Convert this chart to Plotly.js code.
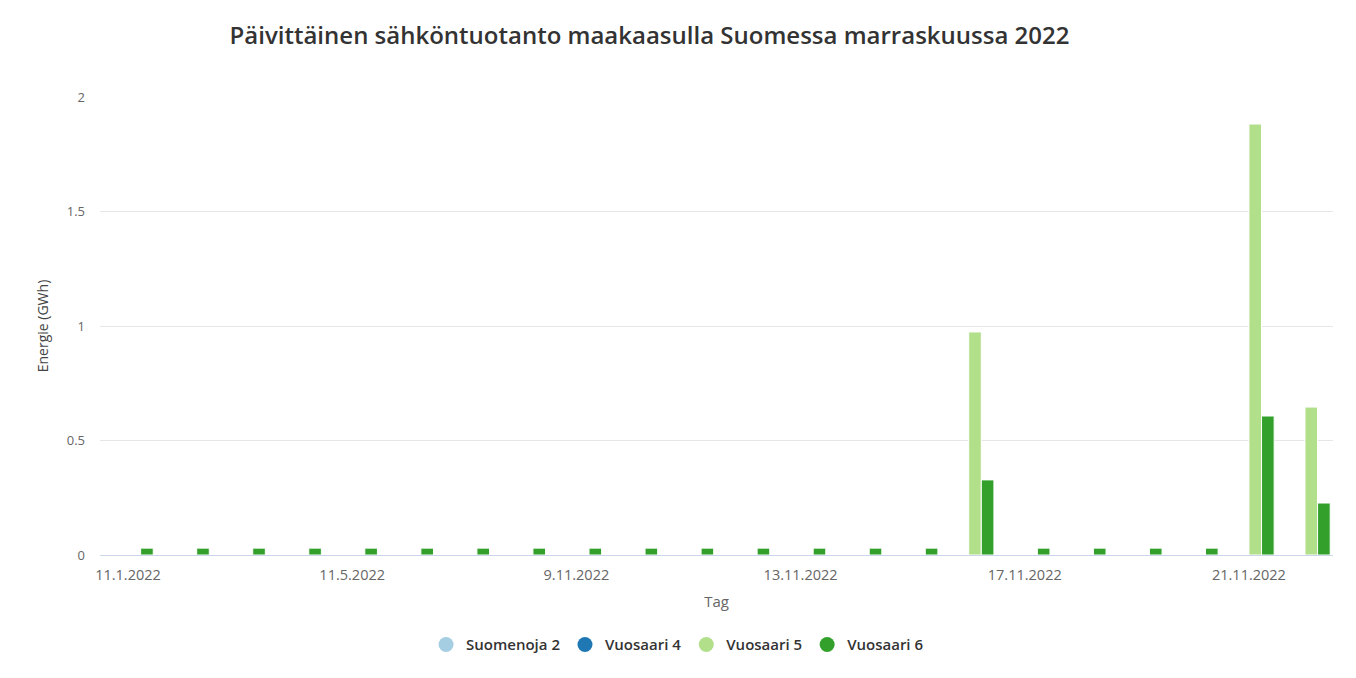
<!DOCTYPE html>
<html>
<head>
<meta charset="utf-8">
<script src="https://cdn.plot.ly/plotly-3.0.1.min.js"></script>
<style>html,body{margin:0;padding:0;background:#fff;}#chart{width:1356px;height:678px;}</style>
</head>
<body>
<div id="chart"></div>
<script>
var categories = ["11.1.2022","11.2.2022","11.3.2022","11.4.2022","11.5.2022","11.6.2022","11.7.2022","11.8.2022",
  "9.11.2022","10.11.2022","11.11.2022","12.11.2022","13.11.2022","14.11.2022","15.11.2022","16.11.2022",
  "17.11.2022","18.11.2022","19.11.2022","20.11.2022","21.11.2022","22.11.2022"];
var tickLabels = ["11.1.2022","11.5.2022","9.11.2022","13.11.2022","17.11.2022","21.11.2022"];
var seriesNames = ["Suomenoja 2","Vuosaari 4","Vuosaari 5","Vuosaari 6"];
var seriesColors = ["#a6cee3","#1f78b4","#b2df8a","#33a02c"];
var suomenoja2 = [0,0,0,0,0,0,0,0,0,0,0,0,0,0,0,0,0,0,0,0,0,0];
var vuosaari4  = [0,0,0,0,0,0,0,0,0,0,0,0,0,0,0,0,0,0,0,0,0,0];
var vuosaari5  = [0,0,0,0,0,0,0,0,0,0,0,0,0,0,0,0.974,0,0,0,0,1.882,0.646];
var vuosaari6  = [0.03,0.03,0.03,0.03,0.03,0.03,0.03,0.03,0.03,0.03,0.03,0.03,0.03,0.03,0.03,0.328,0.03,0.03,0.03,0.03,0.607,0.227];
var seriesValues = [suomenoja2, vuosaari4, vuosaari5, vuosaari6];

var traces = [];
seriesValues.forEach(function(vals, i){
  traces.push({
    type: 'bar', x: categories, y: vals, name: seriesNames[i],
    marker: {color: seriesColors[i], line: {color: '#ffffff', width: 1}},
    showlegend: false, legendgroup: seriesNames[i],
    hovertemplate: '%{x}<br>' + seriesNames[i] + ': %{y} GWh<extra></extra>'
  });
});
seriesValues.forEach(function(vals, i){
  traces.push({
    type: 'scatter', mode: 'markers', x: [null], y: [null], name: seriesNames[i],
    marker: {color: seriesColors[i], size: 15, symbol: 'circle'},
    showlegend: true, legendgroup: seriesNames[i], hoverinfo: 'skip'
  });
});

var tickVals = [categories[0], categories[4], categories[8], categories[12], categories[16], categories[20]];

var layout = {
  width: 1356, height: 678,
  paper_bgcolor: '#ffffff', plot_bgcolor: '#ffffff',
  font: {family: 'Open Sans, Noto Sans, sans-serif', color: '#666666', size: 12},
  margin: {l: 100, r: 23, t: 97, b: 123},
  title: {text: 'Päivittäinen sähköntuotanto maakaasulla Suomessa marraskuussa 2022',
    font: {family: 'Open Sans, Noto Sans, sans-serif', size: 24, color: '#333333', weight: 600},
    x: 0.479, xanchor: 'center', y: 0.948, yanchor: 'middle'},
  barmode: 'group', bargap: 0.1, bargroupgap: 0,
  xaxis: {
    type: 'category', categoryorder: 'array', categoryarray: categories,
    tickmode: 'array', tickvals: tickVals, ticktext: tickLabels,
    showgrid: false, showline: true, linecolor: '#ccd6eb', linewidth: 1,
    ticks: '', tickfont: {size: 14.5, color: '#666666'}, ticklabelstandoff: 7,
    title: {text: 'Tag', font: {size: 15, color: '#666666'}, standoff: 13},
    zeroline: false
  },
  yaxis: {
    range: [0, 2], tickvals: [0, 0.5, 1, 1.5, 2], ticktext: ['0','0.5','1','1.5','2'],
    showgrid: true, gridcolor: '#e6e6e6', gridwidth: 1, zeroline: false,
    tickfont: {size: 13, color: '#666666'}, ticks: '', ticklabelstandoff: 14,
    title: {text: 'Energie (GWh)', font: {size: 14, color: '#444444'}, standoff: 14}
  },
  legend: {orientation: 'h', x: 0.468, xanchor: 'center', y: -0.16, yanchor: 'top',
    font: {size: 15, color: '#333333', family: 'Open Sans, Noto Sans, sans-serif', weight: 600},
    itemwidth: 30, traceorder: 'normal'},
  showlegend: true
};

Plotly.newPlot('chart', traces, layout, {displayModeBar: false});
</script>
</body>
</html>
